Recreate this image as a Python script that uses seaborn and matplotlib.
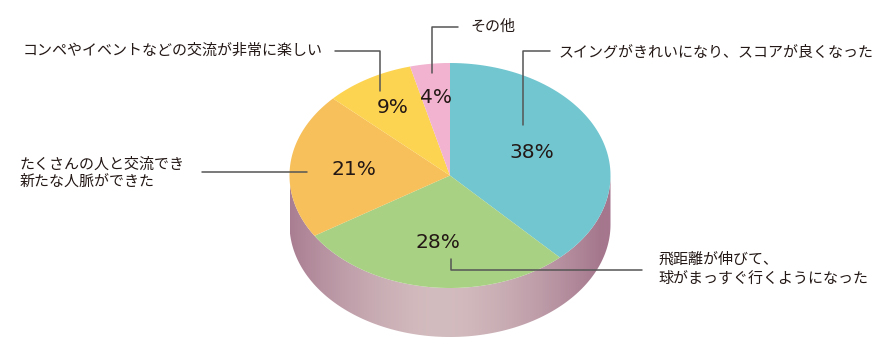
import numpy as np
import matplotlib
matplotlib.use("Agg")
import matplotlib.pyplot as plt
from matplotlib.patches import Polygon
import seaborn as sns

# data, clockwise from 12 o'clock
labels = ["スイングがきれいになり、スコアが良くなった",
          "飛距離が伸びて、\n球がまっすぐ行くようになった",
          "たくさんの人と交流でき\n新たな人脈ができた",
          "コンペやイベントなどの交流が非常に楽しい",
          "その他"]
values = [38, 28, 21, 9, 4]
pct_labels = [f"{v}%" for v in values]
colors = sns.color_palette(["#72C6D0", "#A9D184", "#F7C05A", "#FDD451", "#F1B3CF"])

sns.set_theme(style="white")
plt.rcParams['font.family'] = ['Noto Sans CJK JP', 'DejaVu Sans']

fig = plt.figure(figsize=(8.94, 3.56), dpi=100)
ax = fig.add_axes([0, 0, 1, 1])
ax.set_xlim(0, 894)
ax.set_ylim(356, 0)
ax.axis("off")

# pie geometry (pixels)
cx, cy, rx, ry, depth = 450, 175.5, 160.5, 112.5, 49


def ell(theta, r=1.0, dy=0.0):
    return cx + r * rx * np.cos(theta), cy - r * ry * np.sin(theta) + dy


# side wall with horizontal gradient
th = np.linspace(np.pi, 2 * np.pi, 200)
xt, yt = ell(th)
xb, yb = ell(th[::-1], dy=depth)
side = Polygon(np.column_stack([np.r_[xt, xb], np.r_[yt, yb]]), closed=True,
               facecolor="none", edgecolor="none")
ax.add_patch(side)
light = np.array(matplotlib.colors.to_rgb("#D3BCBF"))
dark = np.array(matplotlib.colors.to_rgb("#A5778D"))
xs = np.linspace(cx - rx, cx + rx, 400)
t = np.clip(np.abs((xs - (cx - 10)) / rx), 0, 1) ** 1.6
grad = light[None, :] * (1 - t[:, None]) + dark[None, :] * t[:, None]
img = ax.imshow(grad[None, :, :],
                extent=[cx - rx, cx + rx, cy + ry + depth + 2, cy - 2],
                aspect="auto", interpolation="bilinear", zorder=1)
img.set_clip_path(side)
ax.set_xlim(0, 894)
ax.set_ylim(356, 0)

# top slices
fracs = np.array(values) / sum(values)
start = np.pi / 2
mids = []
for f, c in zip(fracs, colors):
    end = start - f * 2 * np.pi
    a = np.linspace(start, end, 120)
    x, y = ell(a)
    ax.fill(np.r_[cx, x], np.r_[cy, y], color=c, lw=0, zorder=2)
    mids.append((start + end) / 2)
    start = end

# percent labels
rfac = [0.55, 0.6, 0.6, 0.7, 0.7]
for m, r, p in zip(mids, rfac, pct_labels):
    x, y = ell(m, r)
    ax.text(x, y, p, ha="center", va="center", fontsize=14.5,
            color="#231815", family="DejaVu Sans", zorder=4)

# leader lines and category labels
tc = dict(ha="left", va="center", fontsize=10.8, color="#231815")
lc = dict(color="#555555", lw=1.1, zorder=3)
ax.plot([523, 523, 550], [125, 51, 51], **lc)
ax.text(559, 52, labels[0], **tc)

ax.plot([451, 451, 642], [259, 270, 270], **lc)
ax.text(658, 269, labels[1], linespacing=1.45, **tc)

ax.plot([202, 307], [172, 172], **lc)
ax.text(20, 173, labels[2], linespacing=1.3, **tc)

ax.plot([335, 380, 380], [51, 51, 91], **lc)
ax.text(23, 51, labels[3], **tc)

ax.plot([432, 432, 458], [73, 27, 27], **lc)
ax.text(470, 27, labels[4], **tc)

plt.savefig("out.png", dpi=100)
